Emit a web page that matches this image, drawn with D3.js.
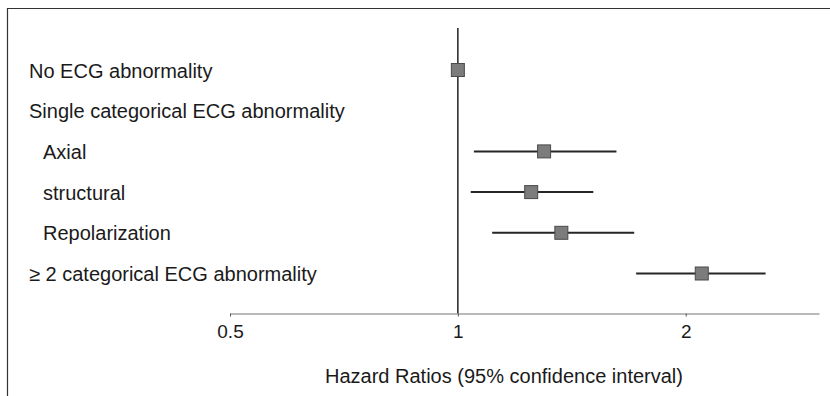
<!DOCTYPE html>
<html>
<head>
<meta charset="utf-8">
<script src="https://cdn.jsdelivr.net/npm/d3@7"></script>
<style>
  body { margin:0; background:#fff; }
  text { font-family: "Liberation Sans", Arial, Helvetica, sans-serif; fill:#1a1a1a; }
</style>
</head>
<body>
<div id="chart"></div>
<script>
// rows of the forest plot, top to bottom
var labels = ["No ECG abnormality", "Single categorical ECG abnormality", "Axial", "structural", "Repolarization", "\u2265 2 categorical ECG abnormality"];
var indented = [false, false, true, true, true, false];
var hr    = [1.00, null, 1.30, 1.25, 1.37, 2.10];
var lower = [null, null, 1.05, 1.04, 1.11, 1.72];
var upper = [null, null, 1.62, 1.51, 1.71, 2.55];
var tickVals = [0.5, 1, 2];

var width = 830, height = 396;

var svg = d3.select("#chart").append("svg")
    .attr("width", width)
    .attr("height", height);

// frame (only top and left edges show in the crop)
svg.append("path")
    .attr("d", "M7.5,396 V8.5 H830")
    .attr("fill", "none")
    .attr("stroke", "#333")
    .attr("stroke-width", 1.2);

var x = d3.scaleLog().domain([0.5, 3]).range([230, 819]);
var y = d3.scalePoint().domain(labels).range([70, 273.5]);
var axisY = 313.5;

var rows = labels.map(function(d, i) {
  return { label: d, indent: indented[i], hr: hr[i], lo: lower[i], hi: upper[i] };
});

// labels
svg.selectAll("text.lab")
    .data(rows)
    .enter().append("text")
    .attr("class", "lab")
    .attr("x", function(d) { return d.indent ? 43 : 29; })
    .attr("y", function(d) { return y(d.label); })
    .attr("dy", "0.38em")
    .style("font-size", "20px")
    .text(function(d) { return d.label; });

// reference line at HR = 1
svg.append("line")
    .attr("x1", x(1)).attr("x2", x(1))
    .attr("y1", 28).attr("y2", axisY)
    .attr("stroke", "#222")
    .attr("stroke-width", 1.5);

// confidence intervals
svg.selectAll("line.ci")
    .data(rows.filter(function(d) { return d.lo != null; }))
    .enter().append("line")
    .attr("class", "ci")
    .attr("x1", function(d) { return x(d.lo); })
    .attr("x2", function(d) { return x(d.hi); })
    .attr("y1", function(d) { return y(d.label); })
    .attr("y2", function(d) { return y(d.label); })
    .attr("stroke", "#262626")
    .attr("stroke-width", 2);

// point estimates
var s = 13;
svg.selectAll("rect.pt")
    .data(rows.filter(function(d) { return d.hr != null; }))
    .enter().append("rect")
    .attr("class", "pt")
    .attr("x", function(d) { return x(d.hr) - s / 2; })
    .attr("y", function(d) { return y(d.label) - s / 2; })
    .attr("width", s)
    .attr("height", s)
    .attr("fill", "#7c7c7c")
    .attr("stroke", "#4a4a4a")
    .attr("stroke-width", 1);

// x axis
var xAxisCall = d3.axisBottom(x)
    .tickValues(tickVals)
    .tickFormat(function(d) { return d; })
    .tickSizeInner(3)
    .tickSizeOuter(0)
    .tickPadding(8);

var xAxis = svg.append("g")
    .attr("transform", "translate(0," + axisY + ")")
    .call(xAxisCall);
xAxis.select(".domain").attr("stroke", "#777").attr("stroke-width", 1.2);
xAxis.selectAll(".tick line").attr("stroke", "#555");
xAxis.selectAll(".tick text")
    .style("font-size", "19px")
    .attr("font-family", null)
    .attr("fill", "#1a1a1a");

// axis title
svg.append("text")
    .attr("x", 504)
    .attr("y", 383)
    .attr("text-anchor", "middle")
    .style("font-size", "20px")
    .text("Hazard Ratios (95% confidence interval)");
</script>
</body>
</html>
